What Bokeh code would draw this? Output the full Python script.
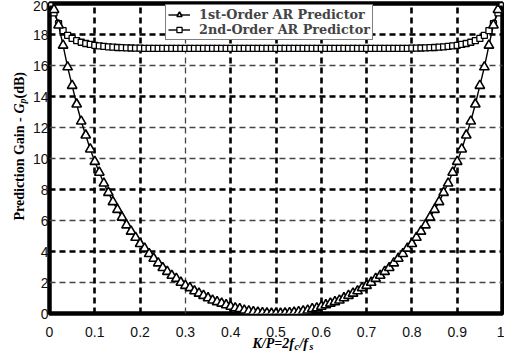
import math
from bokeh.plotting import figure
from bokeh.models import (FixedTicker, Grid, Legend, LegendItem, Label, Range1d)
from bokeh.embed import file_html
from bokeh.resources import INLINE

# ---------------- data ----------------
kp = [i / 100 for i in range(101)]  # K/P = 2 fc / fs

gain_ar1 = [
    20.0, 19.6, 18.6, 17.3, 15.9, 14.7, 13.5, 12.4, 11.5, 10.6,
    9.8, 9.1, 8.4, 7.8, 7.2, 6.7, 6.2, 5.7, 5.3, 4.9,
    4.5, 4.2, 3.85, 3.55, 3.25, 2.95, 2.7, 2.45, 2.25, 2.0,
    1.8, 1.65, 1.45, 1.3, 1.15, 1.0, 0.85, 0.75, 0.65, 0.55,
    0.45, 0.35, 0.3, 0.2, 0.15, 0.1, 0.07, 0.04, 0.02, 0.0,
    0.0,
    0.0, 0.02, 0.04, 0.07, 0.1, 0.15, 0.2, 0.3, 0.35, 0.45,
    0.55, 0.65, 0.75, 0.85, 1.0, 1.15, 1.3, 1.45, 1.65, 1.8,
    2.0, 2.25, 2.45, 2.7, 2.95, 3.25, 3.55, 3.85, 4.2, 4.5,
    4.9, 5.3, 5.7, 6.2, 6.7, 7.2, 7.8, 8.4, 9.1, 9.8,
    10.6, 11.5, 12.4, 13.5, 14.7, 15.9, 17.3, 18.6, 19.6, 20.0,
]

gain_ar2 = [
    20.0, 19.4, 18.7, 18.25, 17.95, 17.75, 17.6, 17.5, 17.42, 17.36,
    17.3, 17.26, 17.23, 17.2, 17.18, 17.16, 17.15, 17.14, 17.13, 17.12,
    17.12, 17.11, 17.11, 17.1, 17.1, 17.1, 17.1, 17.1, 17.1, 17.1,
    17.1, 17.1, 17.1, 17.1, 17.1, 17.1, 17.1, 17.1, 17.1, 17.1,
    17.1, 17.1, 17.1, 17.1, 17.1, 17.1, 17.1, 17.1, 17.1, 17.1,
    17.1,
    17.1, 17.1, 17.1, 17.1, 17.1, 17.1, 17.1, 17.1, 17.1, 17.1,
    17.1, 17.1, 17.1, 17.1, 17.1, 17.1, 17.1, 17.1, 17.1, 17.1,
    17.1, 17.1, 17.1, 17.1, 17.1, 17.1, 17.1, 17.11, 17.11, 17.12,
    17.12, 17.13, 17.14, 17.15, 17.16, 17.18, 17.2, 17.23, 17.26, 17.3,
    17.36, 17.42, 17.5, 17.6, 17.75, 17.95, 18.25, 18.7, 19.4, 20.0,
]

series_names = ["1st-Order AR Predictor", "2nd-Order AR Predictor"]

x_ticks = [0, 0.1, 0.2, 0.3, 0.4, 0.5, 0.6, 0.7, 0.8, 0.9, 1]
x_tick_labels = ["0", "0.1", "0.2", "0.3", "0.4", "0.5", "0.6", "0.7", "0.8", "0.9", "1"]
y_ticks = [0, 2, 4, 6, 8, 10, 12, 14, 16, 18, 20]
y_tick_labels = ["0", "2", "4", "6", "8", "10", "12", "14", "16", "18", "20"]

grid_x_strong = [0.1, 0.2, 0.4, 0.5, 0.6, 0.7, 0.8, 0.9]
grid_x_light = [0.3]
grid_y_strong = [4, 8, 14, 18]
grid_y_light = [2, 6, 10, 12, 16]

# ---------------- figure ----------------
p = figure(frame_width=453, frame_height=310,
           min_border_left=49, min_border_right=2,
           min_border_top=3, min_border_bottom=36,
           x_range=Range1d(0, 1), y_range=Range1d(0, 20),
           output_backend="svg", toolbar_location=None,
           background_fill_color="white", border_fill_color="white")

p.xgrid.visible = False
p.ygrid.visible = False

for dim, ticks, width, color in [
    (0, grid_x_light, 1.3, "#444444"),
    (1, grid_y_light, 1.3, "#444444"),
    (0, grid_x_strong, 2.6, "black"),
    (1, grid_y_strong, 2.6, "black"),
]:
    g = Grid(dimension=dim, ticker=FixedTicker(ticks=ticks),
             grid_line_color=color, grid_line_width=width,
             grid_line_dash="6 4")
    p.add_layout(g)

p.outline_line_color = "black"
p.outline_line_width = 4.5
p.outline_line_alpha = 1.0

for ax, ticks, labels in [(p.xaxis, x_ticks, x_tick_labels), (p.yaxis, y_ticks, y_tick_labels)]:
    ax.ticker = FixedTicker(ticks=ticks)
    ax.major_label_overrides = {t: l for t, l in zip(ticks, labels)}
    ax.minor_tick_line_color = None
    ax.major_tick_in = 0
    ax.major_tick_out = 0
    ax.axis_line_color = None
    ax.major_label_text_font = "Liberation Sans"
    ax.major_label_text_font_size = "14px"
    ax.major_label_text_color = "#111111"

p.xaxis.major_label_standoff = 13
p.yaxis.major_label_standoff = 1

r1_line = p.line(kp, gain_ar1, line_color="black", line_width=1.4)
r2_line = p.line(kp, gain_ar2, line_color="black", line_width=1.4)
r2_pts = p.scatter(kp, gain_ar2, marker="square", size=6,
                   fill_color="white", line_color="black", line_width=1.3)
r1_pts = p.scatter(kp, gain_ar1, marker="triangle", size=9.5,
                   fill_color="white", line_color="black", line_width=1.6)

legend = Legend(items=[
    LegendItem(label=series_names[0], renderers=[r1_line, r1_pts]),
    LegendItem(label=series_names[1], renderers=[r2_line, r2_pts]),
], location=(116, 273), margin=0, padding=2, spacing=0,
    label_text_font="DejaVu Serif", label_text_font_style="bold",
    label_text_font_size="12.8px", label_height=13, glyph_height=13,
    glyph_width=22, label_standoff=9,
    border_line_color="black", border_line_width=1.5,
    background_fill_color="white", background_fill_alpha=1.0)
p.add_layout(legend, "center")

# ---------------- axis titles (with subscripts) ----------------
serif = "Liberation Serif"
xl_x, xl_y = 0.448, -1.94
for txt, dx, dy, size in [("K/P=2f", 0, 0, "14px"), ("c", 42, -3, "10px"),
                          ("/f", 47, 0, "14px"), ("s", 57, -3, "10px")]:
    p.add_layout(Label(x=xl_x, y=xl_y, x_offset=dx, y_offset=dy, text=txt,
                       text_font=serif, text_font_style="bold italic",
                       text_font_size=size, text_baseline="middle",
                       text_align="left", text_color="black"), "below")

yl_x, yl_y = -0.066, 6.0
for txt, dx, dy, size, style in [("Prediction Gain - ", 0, 0, "14px", "bold"),
                                 ("G", 0, 107, "14px", "bold italic"),
                                 ("p", 3, 117, "10px", "bold italic"),
                                 (" (dB)", 0, 122, "14px", "bold")]:
    p.add_layout(Label(x=yl_x, y=yl_y, x_offset=dx, y_offset=dy, text=txt,
                       angle=math.pi / 2, text_font=serif, text_font_style=style,
                       text_font_size=size, text_baseline="middle",
                       text_align="left", text_color="black"), "below")

open("out.html", "w").write(file_html(p, INLINE))
